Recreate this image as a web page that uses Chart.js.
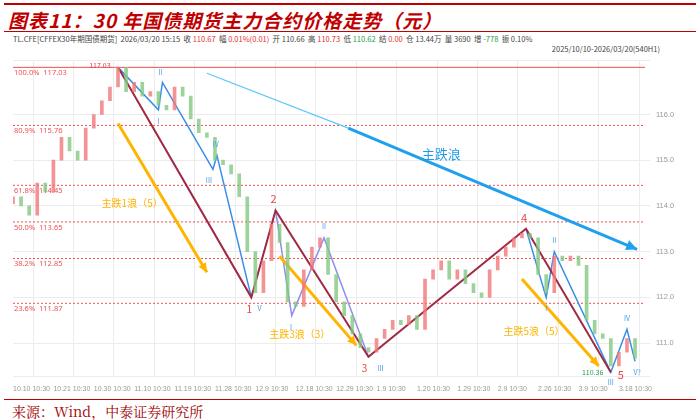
<!DOCTYPE html>
<html><head><meta charset="utf-8">
<script src="https://cdn.jsdelivr.net/npm/chart.js@4"></script>
<style>
body{margin:0;width:700px;height:420px;background:#fff;font-family:"Noto Sans CJK SC","Noto Sans",sans-serif;position:relative;overflow:hidden}
#topline{position:absolute;left:4px;right:4px;top:3px;height:2px;background:#c00000}
#title{position:absolute;left:8px;top:6px;font-size:19px;font-weight:bold;font-style:italic;color:#c00000;letter-spacing:1px}
#tline{position:absolute;left:4px;right:4px;top:31px;height:1px;background:#c00000}
#info{position:absolute;left:13px;top:33px;font-size:7.5px;color:#444;white-space:nowrap}
#info .r{color:#e03030}#info .g{color:#20a040}
#range{position:absolute;right:40px;top:43px;font-size:7.5px;color:#444}
#wrap{position:absolute;left:0;top:50px;width:700px;height:348px}
#fline{position:absolute;left:4px;right:4px;top:399px;height:1px;background:#c00000}
#src{position:absolute;left:12px;top:401px;font-size:14px;color:#a00000;font-family:"Noto Serif CJK SC","Noto Sans CJK SC",serif}
</style></head><body>
<div id="topline"></div>
<div id="title">图表11：30 年国债期货主力合约价格走势（元）</div>
<div id="tline"></div>
<div id="info">TL.CFE[CFFEX30年期国债期货] &nbsp;2026/03/20 15:15 &nbsp;收 <span class="r">110.67</span> &nbsp;幅 <span class="r">0.01%(0.01)</span> &nbsp;开 110.66 &nbsp;高 <span class="r">110.73</span> &nbsp;低 <span class="g">110.62</span> &nbsp;结 <span class="r">0.00</span> &nbsp;仓 13.44万 &nbsp;量 3690 &nbsp;增 <span class="g">-778</span> &nbsp;振 0.10%</div>
<div id="range">2025/10/10-2026/03/20(540H1)</div>
<div id="wrap"><canvas id="c"></canvas></div>
<div id="fline"></div>
<div id="src">来源：Wind，中泰证券研究所</div>
<script>
// x axis: 10 units per date label
const dateLabels = ['10.10 10:30','10.21 10:30','10.30 10:30','11.10 10:30','11.19 10:30','11.28 10:30','12.9 10:30','12.18 10:30','12.29 10:30','1.9 10:30','1.20 10:30','1.29 10:30','2.9 10:30','2.26 10:30','3.9 10:30','3.18 10:30'];
const candleX = [];
for (let i = 0; i <= 154; i += 2) candleX.push(i);
const closes = [114.2,114.0,113.8,114.5,114.3,115.0,115.5,115.2,115.0,115.7,116.0,116.3,116.6,117.03,
  116.5,116.7,116.4,116.5,116.2,116.1,116.6,116.4,115.9,115.6,115.5,115.0,114.9,114.7,114.2,113.0,
  112.1,112.8,113.6,113.2,111.9,111.8,112.6,113.1,113.3,112.5,111.9,111.6,111.2,110.9,110.8,111.1,
  111.3,111.5,111.4,111.6,111.3,112.4,112.6,112.8,112.4,112.6,112.3,112.1,112.0,112.6,112.9,113.1,
  113.3,113.4,113.3,112.5,112.1,112.9,112.8,112.9,112.7,111.5,111.2,111.1,110.5,110.8,111.1,110.67];
const fibPct = ['100.0%','80.9%','61.8%','50.0%','38.2%','23.6%'];
const fibLevels = [117.03,115.76,114.45,113.65,112.85,111.87];

// wave lines (x in axis units, y in price)
const mainWave = [[26,117.03],[59,112.0],[65,113.9],[88,110.7],[127,113.5],[148,110.36]];
const wave1Sub = [[26,117.03],[36,116.1],[37,116.7],[49.5,114.8],[50.5,115.1],[59,112.0]];
const wave3Sub = [[65,113.9],[69,111.6],[77,113.3],[88,110.7]];
const wave5Sub = [[127,113.5],[132,112.0],[134,113.0],[148,110.36],[152,111.3],[154,110.6]];
const trendThin = [[48,116.9],[83,115.7]];
const trendThick = [[83,115.7],[154.5,113.05]];
const arrow1 = [[26,115.8],[48,112.55]];
const arrow3 = [[66,112.9],[85,110.95]];
const arrow5 = [[126,112.4],[145,110.5]];

const labels = [
  {t:'主跌1浪（5）',x:29.5,y:114.05,c:'#ffb400',s:10},
  {t:'主跌3浪（3）',x:71,y:111.2,c:'#ffb400',s:10},
  {t:'主跌5浪（5）',x:129,y:111.27,c:'#ffb400',s:10},
  {t:'主跌浪',x:106,y:115.14,c:'#1e9be8',s:13},
  {t:'2',x:64.5,y:114.15,c:'#e84545',s:11},
  {t:'1',x:58.5,y:111.75,c:'#e84545',s:10},
  {t:'3',x:87,y:110.45,c:'#e84545',s:10},
  {t:'4',x:126.5,y:113.75,c:'#e84545',s:11},
  {t:'5',x:150.5,y:110.3,c:'#e84545',s:11},
  {t:'I',x:36,y:115.85,c:'#4aa0e8',s:7},
  {t:'II',x:36.5,y:116.92,c:'#4aa0e8',s:7},
  {t:'III',x:48.5,y:114.55,c:'#4aa0e8',s:7},
  {t:'IV',x:50.2,y:115.35,c:'#4aa0e8',s:7},
  {t:'V',x:61,y:111.75,c:'#4aa0e8',s:7},
  {t:'I',x:68.8,y:111.35,c:'#4aa0e8',s:7},
  {t:'II',x:77,y:113.55,c:'#4aa0e8',s:7},
  {t:'III',x:91,y:110.45,c:'#4aa0e8',s:7},
  {t:'I',x:132,y:111.75,c:'#4aa0e8',s:7},
  {t:'II',x:134,y:113.25,c:'#4aa0e8',s:7},
  {t:'III',x:148,y:110.15,c:'#4aa0e8',s:7},
  {t:'IV',x:152,y:111.55,c:'#4aa0e8',s:7},
  {t:'V?',x:154.5,y:110.35,c:'#4aa0e8',s:7},
  {t:'117.03',x:21.5,y:117.08,c:'#e04040',s:7},
  {t:'110.36',x:143.5,y:110.36,c:'#20a040',s:7}
];

const candles = candleX.map((x, i) => ({x, y:[i ? closes[i-1] : closes[0]-0.15, closes[i]]}));
const candleCol = candles.map(d => d.y[1] >= d.y[0] ? 'rgba(240,120,120,0.8)' : 'rgba(130,200,130,0.8)');
const pts = a => a.map(p => ({x:p[0], y:p[1]}));
const lineDs = (a, col, w, arrow) => ({type:'line', data:pts(a), borderColor:col, borderWidth:w, pointRadius:0, fill:false, tension:0, arrow});

const overlay = {
  id:'overlay',
  beforeDatasetsDraw(chart) {
    const {ctx, chartArea:a, scales:{x, y}} = chart;
    ctx.save();
    fibLevels.forEach((v, i) => {
      const py = y.getPixelForValue(v);
      ctx.strokeStyle = '#f05050'; ctx.lineWidth = 1;
      ctx.setLineDash(i === 0 ? [] : [2, 2]);
      ctx.beginPath(); ctx.moveTo(a.left, py); ctx.lineTo(a.right - 5, py); ctx.stroke();
      ctx.setLineDash([]);
      ctx.fillStyle = '#f05050'; ctx.font = '7.5px "Noto Sans"'; ctx.textBaseline = 'top';
      ctx.fillText(fibPct[i] + '  ' + v.toFixed(2), a.left + 1, py + 2);
    });
    ctx.restore();
  },
  afterDatasetsDraw(chart) {
    const {ctx, scales:{x, y}} = chart;
    ctx.save();
    chart.data.datasets.forEach(ds => {
      if (!ds.arrow) return;
      const n = ds.data.length;
      const p1 = ds.data[n-2], p2 = ds.data[n-1];
      const x1 = x.getPixelForValue(p1.x), y1 = y.getPixelForValue(p1.y);
      const x2 = x.getPixelForValue(p2.x), y2 = y.getPixelForValue(p2.y);
      const ang = Math.atan2(y2 - y1, x2 - x1), L = ds.arrow;
      ctx.fillStyle = ds.borderColor;
      ctx.beginPath();
      ctx.moveTo(x2, y2);
      ctx.lineTo(x2 - L*Math.cos(ang - 0.45), y2 - L*Math.sin(ang - 0.45));
      ctx.lineTo(x2 - L*Math.cos(ang + 0.45), y2 - L*Math.sin(ang + 0.45));
      ctx.closePath(); ctx.fill();
    });
    ctx.textAlign = 'center'; ctx.textBaseline = 'middle';
    labels.forEach(l => {
      ctx.fillStyle = l.c; ctx.font = l.s + 'px "Noto Sans CJK SC"';
      ctx.fillText(l.t, x.getPixelForValue(l.x), y.getPixelForValue(l.y));
    });
    ctx.restore();
  }
};

new Chart(document.getElementById('c'), {
  data:{datasets:[
    {type:'bar', data:candles, backgroundColor:candleCol, barThickness:3, grouped:false},
    lineDs(trendThin, '#5ac8fa', 1.2),
    lineDs(trendThick, '#1ea0ee', 3, 12),
    lineDs(arrow1, '#ffb400', 3, 10),
    lineDs(arrow3, '#ffb400', 3, 10),
    lineDs(arrow5, '#ffb400', 3, 10),
    lineDs(mainWave, '#a02a45', 2),
    lineDs(wave1Sub, '#3a8ee6', 1.5),
    lineDs(wave3Sub, '#8f8ff0', 1.5),
    lineDs(wave5Sub, '#3a8ee6', 1.5)
  ]},
  options:{
    responsive:true, maintainAspectRatio:false, animation:false,
    layout:{padding:{left:13, top:5}},
    plugins:{legend:{display:false}, tooltip:{enabled:false}},
    scales:{
      x:{type:'linear', min:0, max:157.7, offset:false,
        afterFit(s){ s.height = 22; },
        afterBuildTicks(s){ s.ticks = dateLabels.map((_, i) => ({value:i*10})); },
        grid:{color:'#ececec', drawTicks:false},
        border:{display:false},
        ticks:{autoSkip:false, align:'start', maxRotation:0, color:'#999', font:{size:7}, padding:9,
          callback:v => dateLabels[Math.round(v/10)] || ''}},
      y:{position:'right', min:110.28, max:117.18,
        afterFit(s){ s.width = 50; },
        grid:{color:'#ececec', drawTicks:false},
        border:{display:false},
        ticks:{stepSize:1, color:'#999', font:{size:7.5}, padding:6,
          callback:v => Number.isInteger(v) ? v.toFixed(1) : ''}}
    }
  },
  plugins:[overlay]
});
</script>
</body></html>
